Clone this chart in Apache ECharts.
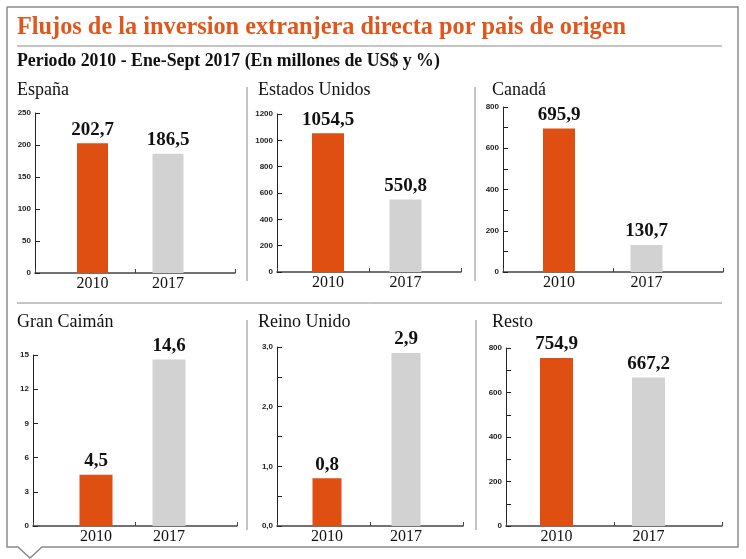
<!DOCTYPE html>
<html><head><meta charset="utf-8">
<script src="https://cdn.jsdelivr.net/npm/echarts@6/dist/echarts.min.js"></script>
<style>html,body{margin:0;padding:0;background:#fff}#c{width:746px;height:559px}</style>
</head><body><div id="c"></div>
<script>
// ---- data ----
const categories = ['2010', '2017'];
const panelNames = ['España', 'Estados Unidos', 'Canadá', 'Gran Caimán', 'Reino Unido', 'Resto'];
const values2010 = [202.7, 1054.5, 695.9, 4.5, 0.8, 754.9];
const values2017 = [186.5, 550.8, 130.7, 14.6, 2.9, 667.2];
const axisMax = [250, 1200, 800, 15, 3, 800];
const axisInterval = [50, 200, 200, 3, 1, 200];
const axisDecimals = [0, 0, 0, 0, 1, 0];
const minorTicks = [false, false, true, false, true, true];
const mainTitle = 'Flujos de la inversion extranjera directa por pais de origen';
const subTitle = 'Periodo 2010 - Ene-Sept 2017 (En millones de US$ y %)';

// ---- layout ----
const frames = [ // axis frame: left, top, width, height
  [35, 113, 200, 160],
  [277, 114, 184, 158],
  [503, 107, 220, 165],
  [33, 355, 204, 171],
  [277, 347, 186, 179],
  [506, 348, 216, 178]
];
const barAreas = [ // bar area left, width, bar width
  [54.75, 151, 31], [289.25, 155, 32], [515.25, 175, 32],
  [59.5, 146, 33], [287.5, 158, 29], [510.5, 184, 33]
];
const titlePos = [[17, 81], [258, 81], [492, 81], [17, 313], [258, 313], [492, 313]];

const ORANGE = '#DF4F12', GRAY = '#D3D2D2', TITLE_ORANGE = '#E0561C';
const fmt = (v, d) => Number(v).toFixed(d).replace('.', ',');

const grid = [], xAxis = [], yAxis = [], series = [];
const title = [
  {text: mainTitle, left: 17, top: 16, padding: 0,
   textStyle: {fontFamily: 'Liberation Serif', fontWeight: 'bold', fontSize: 24.3, color: TITLE_ORANGE}},
  {text: subTitle, left: 17, top: 52, padding: 0,
   textStyle: {fontFamily: 'Liberation Serif', fontWeight: 'bold', fontSize: 17.8, color: '#111'}}
];

panelNames.forEach((name, i) => {
  const [fl, ft, fw, fh] = frames[i];
  const [bl, bw, barW] = barAreas[i];
  title.push({text: name, left: titlePos[i][0], top: titlePos[i][1], padding: 0,
    textStyle: {fontFamily: 'Liberation Serif', fontWeight: 'normal', fontSize: 18, color: '#111'}});
  grid.push({left: fl, top: ft, width: fw, height: fh});
  grid.push({left: bl, top: ft, width: bw, height: fh});
  const ga = 2 * i, gb = 2 * i + 1;
  xAxis.push({gridIndex: ga, type: 'category', data: categories,
    axisLabel: {show: false},
    axisLine: {show: true, lineStyle: {color: '#444', width: 1.5}},
    axisTick: {show: true, inside: true, length: 4, lineStyle: {color: '#444', width: 1}}});
  yAxis.push({gridIndex: ga, type: 'value', min: 0, max: axisMax[i], interval: axisInterval[i],
    splitLine: {show: false},
    axisLine: {show: true, lineStyle: {color: '#222', width: 1}},
    axisTick: {show: true, inside: true, length: 5, lineStyle: {color: '#222', width: 1}},
    minorTick: {show: minorTicks[i], splitNumber: 2, length: 5, lineStyle: {color: '#222', width: 1}},
    axisLabel: {margin: 4, fontFamily: 'Liberation Sans', fontWeight: 'bold', fontSize: 8, color: '#222',
      formatter: v => fmt(v, axisDecimals[i])}});
  xAxis.push({gridIndex: gb, type: 'category', data: categories,
    axisLine: {show: false}, axisTick: {show: false},
    axisLabel: {margin: 3, fontFamily: 'Liberation Serif', fontSize: 16, color: '#111'}});
  yAxis.push({gridIndex: gb, type: 'value', min: 0, max: axisMax[i], show: false});
  series.push({type: 'bar', xAxisIndex: gb, yAxisIndex: gb, colorBy: 'data',
    data: [values2010[i], values2017[i]], barWidth: barW,
    label: {show: true, position: 'top', distance: 4,
      fontFamily: 'Liberation Serif', fontWeight: 'bold', fontSize: 19, color: '#111',
      formatter: p => fmt(p.value, 1)}});
});

const lineStyle = {stroke: '#8a8a8a', lineWidth: 1};
const graphic = [
  {type: 'polyline', shape: {points: [[7,7],[738,7],[738,547],[42,547],[30,558],[18,547],[7,547],[7,7]]},
   style: {fill: null, stroke: '#8a8a8a', lineWidth: 1.5}, silent: true},
  {type: 'line', shape: {x1: 17, y1: 46, x2: 722, y2: 46}, style: lineStyle, silent: true},
  {type: 'line', shape: {x1: 17, y1: 303, x2: 722, y2: 303}, style: lineStyle, silent: true},
  {type: 'line', shape: {x1: 247, y1: 87, x2: 247, y2: 281}, style: lineStyle, silent: true},
  {type: 'line', shape: {x1: 475, y1: 87, x2: 475, y2: 281}, style: lineStyle, silent: true},
  {type: 'line', shape: {x1: 247, y1: 320, x2: 247, y2: 530}, style: lineStyle, silent: true},
  {type: 'line', shape: {x1: 476, y1: 320, x2: 476, y2: 530}, style: lineStyle, silent: true}
];

const chart = echarts.init(document.getElementById('c'), null, {renderer: 'canvas'});
chart.setOption({
  backgroundColor: '#fff',
  animation: false,
  color: [ORANGE, GRAY],
  title, grid, xAxis, yAxis, series, graphic
});
</script>
</body></html>
